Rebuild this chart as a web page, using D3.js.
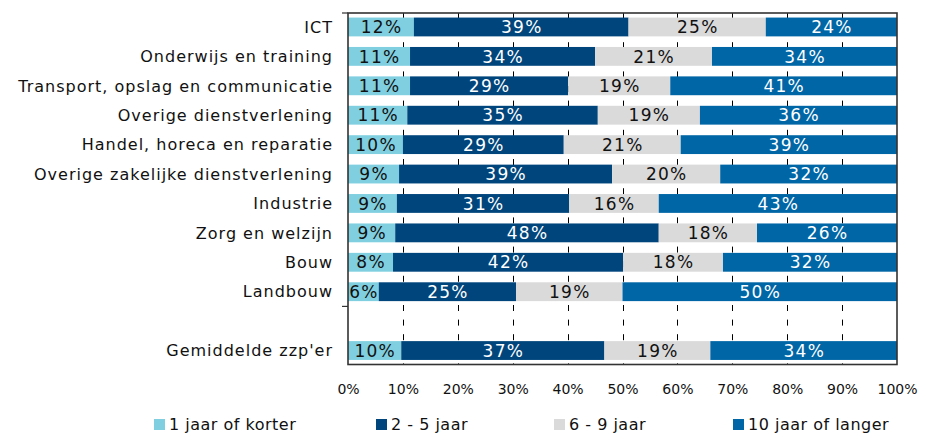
<!DOCTYPE html>
<html>
<head>
<meta charset="utf-8">
<script src="https://cdnjs.cloudflare.com/ajax/libs/d3/7.8.5/d3.min.js"></script>
<style>
body { margin: 0; background: #fff; }
svg { display: block; }
</style>
</head>
<body>
<svg id="chart" width="926" height="434"></svg>
<script>
var categories = ["ICT", "Onderwijs en training", "Transport, opslag en communicatie",
    "Overige dienstverlening", "Handel, horeca en reparatie", "Overige zakelijke dienstverlening",
    "Industrie", "Zorg en welzijn", "Bouw", "Landbouw", "", "Gemiddelde zzp'er"]

var series = ["1 jaar of korter", "2 - 5 jaar", "6 - 9 jaar", "10 jaar of langer"]

// shares in %; the spacer row has no values
var korter   = [12.0, 11.3, 11.3, 10.8, 10.0,  9.3,  8.9,  8.6,  8.2,  5.6, null,  9.7]
var jaar2tot5 = [39.1, 33.7, 28.8, 34.7, 29.3, 38.8, 31.4, 48.0, 41.9, 25.0, null, 37.0]
var jaar6tot9 = [25.0, 21.3, 18.6, 18.6, 21.3, 19.7, 16.3, 17.9, 18.2, 19.4, null, 19.3]
var langer   = [23.9, 33.7, 41.3, 35.9, 39.4, 32.2, 43.4, 25.5, 31.7, 50.0, null, 34.0]

var xTicks = [0, 10, 20, 30, 40, 50, 60, 70, 80, 90, 100]

var colors = ["#7fcfe0", "#00457c", "#dadada", "#0066a6"]
var labelColors = ["#111", "#fff", "#111", "#fff"]
var legendX = [169, 391, 569, 748]
var font = "'DejaVu Sans', Verdana, sans-serif"

var rows = categories.map(function(c, i) {
    var r = {i: i, cat: c}
    r[series[0]] = korter[i]
    r[series[1]] = jaar2tot5[i]
    r[series[2]] = jaar6tot9[i]
    r[series[3]] = langer[i]
    return r
})

var svg = d3.select("#chart").style("font-family", font)

var x = d3.scaleLinear().domain([0, 100]).range([348, 897])
var y = d3.scaleBand()
    .domain(d3.range(categories.length))
    .range([13, 364.5])
    .paddingInner(0.36)
    .paddingOuter(0.155)

// dashed gridlines behind the bars
svg.append("g")
    .selectAll("line")
    .data(xTicks.slice(1, -1))
    .enter().append("line")
    .attr("x1", function(d) { return Math.round(x(d)) + 0.5 })
    .attr("x2", function(d) { return Math.round(x(d)) + 0.5 })
    .attr("y1", y.range()[0])
    .attr("y2", y.range()[1])
    .attr("stroke", "#000")
    .attr("stroke-width", 1)
    .attr("stroke-dasharray", "6,8.6")

var stacked = d3.stack().keys(series)(rows.filter(function(r) { return r.cat !== "" }))

var layer = svg.append("g")
    .selectAll("g")
    .data(stacked)
    .enter().append("g")
    .attr("fill", function(d, k) { return colors[k] })

layer.selectAll("rect")
    .data(function(d) { return d })
    .enter().append("rect")
    .attr("x", function(d) { return x(d[0]) })
    .attr("width", function(d) { return x(d[1]) - x(d[0]) })
    .attr("y", function(d) { return y(d.data.i) })
    .attr("height", y.bandwidth())

var labels = svg.append("g")
    .selectAll("g")
    .data(stacked)
    .enter().append("g")
    .attr("fill", function(d, k) { return labelColors[k] })
    .attr("font-size", 17)
    .attr("letter-spacing", "1.3px")
    .attr("text-anchor", "middle")

labels.selectAll("text")
    .data(function(d) { return d })
    .enter().append("text")
    .attr("x", function(d) { return (x(d[0]) + x(d[1])) / 2 + 0.6 })
    .attr("y", function(d) { return y(d.data.i) + y.bandwidth() / 2 })
    .attr("dy", "0.36em")
    .text(function(d) { return Math.round(d[1] - d[0]) + "%" })

// plot frame
svg.append("rect")
    .attr("x", x.range()[0])
    .attr("y", y.range()[0])
    .attr("width", x.range()[1] - x.range()[0])
    .attr("height", y.range()[1] - y.range()[0])
    .attr("fill", "none")
    .attr("stroke", "#333")
    .attr("stroke-width", 1.6)

// the two category ticks that show on the left axis
var tickY = [y.range()[0], y(10) - y.step() * y.paddingInner() / 2]
svg.append("g")
    .selectAll("line")
    .data(tickY)
    .enter().append("line")
    .attr("x1", x.range()[0] - 6)
    .attr("x2", x.range()[0])
    .attr("y1", function(d) { return d })
    .attr("y2", function(d) { return d })
    .attr("stroke", "#333")
    .attr("stroke-width", 1.2)

var yAxis = svg.append("g")
    .attr("transform", "translate(" + x.range()[0] + ",0)")
    .call(d3.axisLeft(y).tickSize(0).tickPadding(15).tickFormat(function(i) { return categories[i] }))
yAxis.select(".domain").remove()
yAxis.selectAll("text")
    .attr("font-family", font)
    .attr("font-size", 16)
    .attr("letter-spacing", "1px")
    .attr("fill", "#111")
    .attr("dy", "0.36em")

var xAxis = svg.append("g")
    .attr("transform", "translate(0," + y.range()[1] + ")")
    .call(d3.axisBottom(x).tickValues(xTicks).tickSize(0).tickPadding(19.5).tickFormat(function(d) { return d + "%" }))
xAxis.select(".domain").remove()
xAxis.selectAll("text")
    .attr("font-family", font)
    .attr("font-size", 14)
    .attr("fill", "#111")

var legend = svg.append("g")
    .selectAll("g")
    .data(series)
    .enter().append("g")
    .attr("transform", function(d, k) { return "translate(" + legendX[k] + ",430)" })

legend.append("rect")
    .attr("x", -15)
    .attr("y", -11)
    .attr("width", 11)
    .attr("height", 11)
    .attr("fill", function(d, k) { return colors[k] })

legend.append("text")
    .attr("font-size", 16)
    .attr("letter-spacing", "0.5px")
    .attr("fill", "#111")
    .text(function(d) { return d })
</script>
</body>
</html>
